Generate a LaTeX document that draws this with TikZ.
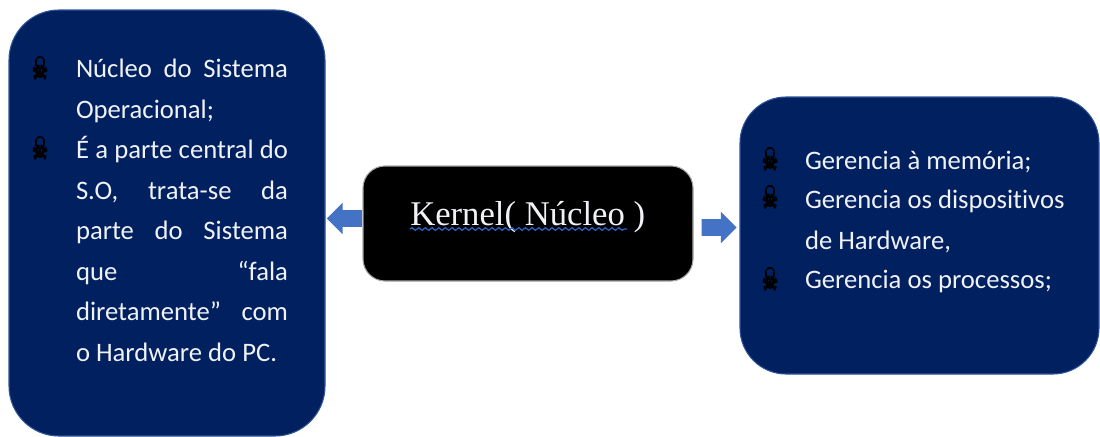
\documentclass[tikz,border=0pt]{standalone}
\usepackage{fontspec}
\usepackage{graphicx}
\setmainfont{Carlito}[Ligatures={TeX,NoCommon}]
\newfontfamily\kernelfont{Liberation Serif}
\newfontfamily\skullfont{DejaVu Sans}[FakeBold=3]
\usetikzlibrary{shapes.arrows,decorations.pathmorphing}
\definecolor{navy}{HTML}{002060}
\definecolor{navyedge}{HTML}{2F5597}
\definecolor{arrowblue}{HTML}{4472C4}
\definecolor{wavyblue}{HTML}{2F62C8}
\definecolor{textwhite}{HTML}{F0F2F6}
\newlength{\pxu}\setlength{\pxu}{0.75pt}
\newcommand{\jl}[2]{\makebox[#1\pxu][s]{#2}}
\tikzset{
  x=0.75pt,y=-0.75pt,
  panel/.style={draw=navyedge,line width=0.8pt,fill=navy,inner sep=0pt,outer sep=0pt},
  corebox/.style={draw=black!35,line width=0.8pt,fill=black,inner sep=0pt,outer sep=0pt,rounded corners=22\pxu,minimum width=330\pxu,minimum height=115\pxu},
  txt/.style={anchor=base west,inner sep=0pt,outer sep=0pt,text=textwhite,font=\fontsize{20}{20}\selectfont},
  skull/.style={inner sep=0pt,outer sep=0pt,text=black,font=\skullfont\fontsize{19}{19}\selectfont},
  blockarrow/.style={single arrow,fill=arrowblue,draw=none,inner xsep=0pt,inner ysep=8\pxu,outer sep=0pt,
    single arrow head extend=7.5\pxu,minimum height=35\pxu,minimum width=31\pxu,single arrow tip angle=90},
}
\newcommand{\skl}{\scalebox{0.72}[1.25]{☠}}
\begin{document}
\begin{tikzpicture}
\useasboundingbox (0,0) rectangle (1100,436);
% panels
\node[panel,rounded corners=50\pxu,minimum width=316\pxu,minimum height=426\pxu] (left) at (167,223) {};
\node[panel,rounded corners=46\pxu,minimum width=359\pxu,minimum height=277\pxu] (right) at (919.5,235.5) {};
\node[corebox] (core) at (528,223.5) {};
% center text
\node[inner sep=0pt,anchor=base west,text=textwhite,font=\kernelfont\fontsize{26}{26}\selectfont] (kern) at (410,225) {Kernel( Núcleo )};
\coordinate (wavya) at (410,229);
\coordinate (wavyb) at (627,229);
\draw[wavyblue,line width=0.9pt,decorate,decoration={snake,amplitude=1pt,segment length=5pt}] (wavya) -- (wavyb);
% arrows
\node[blockarrow,shape border rotate=180] (la) at (348.5,218.5) {};
\node[blockarrow] (ra) at (715,227.5) {};
% left text
\node[skull] (s1) at (40,68) {\skl};
\node[skull] (s2) at (40,148) {\skl};
\node[txt] (l1) at (76,77) {\jl{212}{Núcleo do Sistema}};
\node[txt] (l2) at (76,118) {Operacional;};
\node[txt] (l3) at (76,158) {\jl{212}{É a parte central do}};
\node[txt] (l4) at (76,199) {\jl{212}{S.O, trata-se da}};
\node[txt] (l5) at (76,239) {\jl{212}{parte do Sistema}};
\node[txt] (l6) at (76,280) {\jl{212}{que “fala}};
\node[txt] (l7) at (76,320) {\jl{212}{diretamente” com}};
\node[txt] (l8) at (76,361) {o Hardware do PC.};
% right text
\node[skull] (s3) at (770,159) {\skl};
\node[skull] (s4) at (770,197) {\skl};
\node[skull] (s5) at (770,279) {\skl};
\node[txt] (r1) at (805,169) {Gerencia à memória;};
\node[txt] (r2) at (805,208) {Gerencia os dispositivos};
\node[txt] (r3) at (805,249) {de Hardware,};
\node[txt] (r4) at (805,288) {Gerencia os processos;};
\end{tikzpicture}
\end{document}
